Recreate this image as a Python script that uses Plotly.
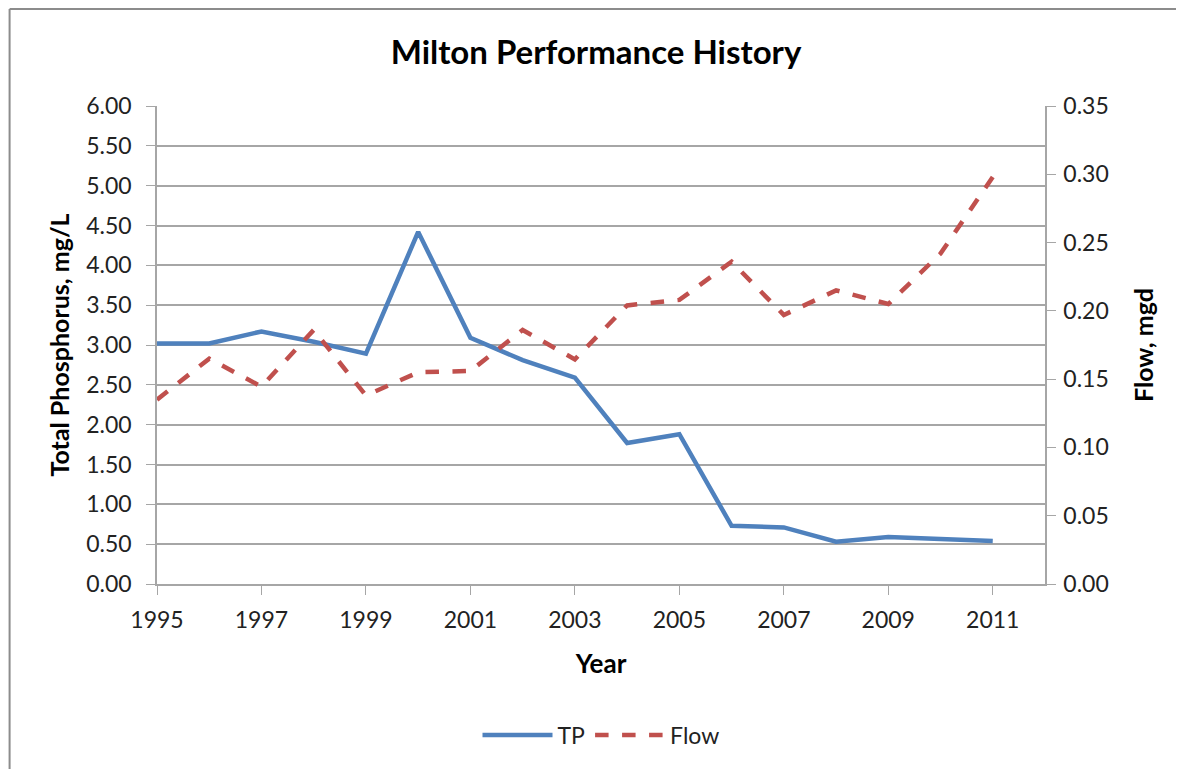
import plotly.graph_objects as go

years = list(range(1995, 2012))
tp = [3.02, 3.02, 3.17, 3.04, 2.89, 4.42, 3.09, 2.81, 2.59, 1.77, 1.88, 0.73, 0.71, 0.53, 0.59, 0.56, 0.54]
flow = [0.135, 0.165, 0.1445, 0.186, 0.138, 0.155, 0.156, 0.186, 0.1645, 0.204, 0.208, 0.236, 0.197, 0.215, 0.205, 0.242, 0.298]
year_ticks = list(range(1995, 2012, 2))

FONT = 'Lato, "Open Sans", sans-serif'
GRID = '#a6a6a6'
TXT = '#222222'
FRAME = dict(color='#8c8c8c', width=2)

fig = go.Figure()
fig.add_trace(go.Scatter(x=years, y=tp, name='TP', mode='lines',
    line=dict(color='#4F81BD', width=4.5)))
fig.add_trace(go.Scatter(x=years, y=flow, name='Flow', mode='lines', yaxis='y2',
    line=dict(color='#C0504D', width=4.5, dash='dash')))

# page body has an 8px margin: figure is shrunk by 8px so it fits in the window
fig.update_layout(
    width=1176, height=761, paper_bgcolor='white', plot_bgcolor='white',
    margin=dict(l=149, r=139, t=98, b=185),
    font=dict(family=FONT, size=23, color=TXT),
    title=dict(text='<b>Milton Performance History</b>', x=0.5, xanchor='center',
               y=0.942, yanchor='middle', font=dict(size=33, color='black')),
    xaxis=dict(range=[1995, 2012], tickvals=year_ticks, showgrid=False,
               showline=True, linecolor=GRID, linewidth=1.5, ticks='outside',
               ticklen=9, tickcolor=GRID, tickfont=dict(size=23), ticklabelstandoff=6,
               title=dict(text='<b>Year</b>', font=dict(size=26, color='black'), standoff=22)),
    yaxis=dict(range=[0, 6], dtick=0.5, tickformat='.2f', showgrid=True, gridcolor=GRID,
               gridwidth=1.5, showline=True, linecolor=GRID, linewidth=1.5, ticks='outside',
               ticklen=9, tickcolor=GRID, zeroline=False, tickfont=dict(size=23),
               ticklabelstandoff=10,
               title=dict(text='<b>Total Phosphorus, mg/L</b>', font=dict(size=25, color='black'), standoff=9)),
    yaxis2=dict(range=[0, 0.35], dtick=0.05, tickformat='.2f', overlaying='y', side='right',
                showgrid=False, showline=True, linecolor=GRID, linewidth=1.5, ticks='outside',
                ticklen=9, tickcolor=GRID, zeroline=False, tickfont=dict(size=23),
                ticklabelstandoff=3,
                title=dict(text='<b>Flow, mgd</b>', font=dict(size=25, color='black'), standoff=28)),
    legend=dict(orientation='h', x=0.5, xanchor='center', y=-0.316, yanchor='middle',
                font=dict(size=23), itemwidth=70),
    showlegend=True,
    # chart-area frame: only its left and top edges are in the window
    shapes=[dict(type='line', xref='paper', yref='paper', x0=-0.166, x1=-0.166,
                 y0=-0.5, y1=1.203, line=FRAME),
            dict(type='line', xref='paper', yref='paper', x0=-0.166, x1=1.3,
                 y0=1.203, y1=1.203, line=FRAME)],
)

fig.write_html('out.html')
